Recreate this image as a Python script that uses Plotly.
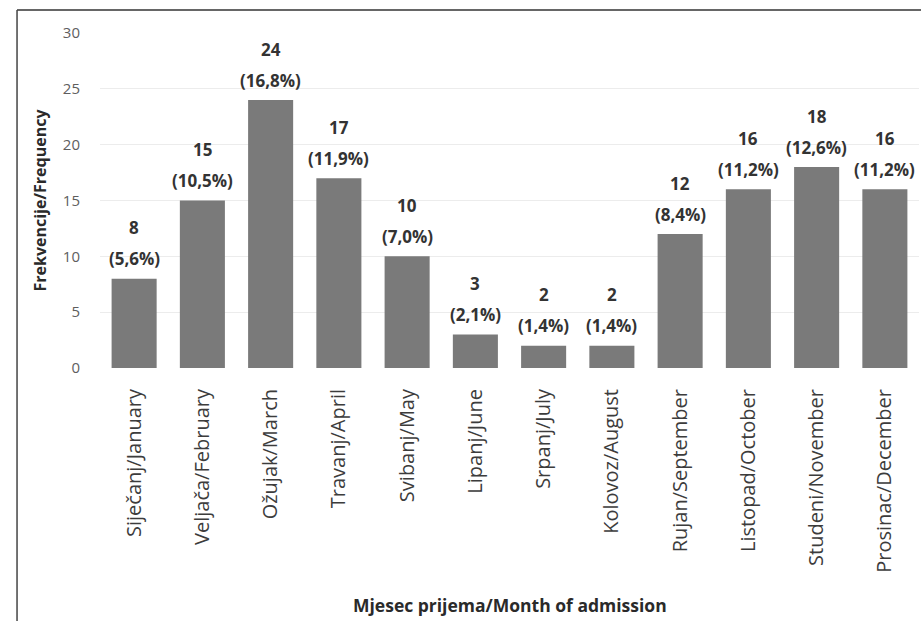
import plotly.graph_objects as go

# Monthly admissions
months = [
    "Siječanj/January", "Veljača/February", "Ožujak/March", "Travanj/April",
    "Svibanj/May", "Lipanj/June", "Srpanj/July", "Kolovoz/August",
    "Rujan/September", "Listopad/October", "Studeni/November", "Prosinac/December",
]
counts = [8, 15, 24, 17, 10, 3, 2, 2, 12, 16, 18, 16]
percents = [5.6, 10.5, 16.8, 11.9, 7.0, 2.1, 1.4, 1.4, 8.4, 11.2, 12.6, 11.2]
y_ticks = [0, 5, 10, 15, 20, 25, 30]

FONT = "Open Sans"
LABEL_COLOR = "#333333"
pct_text = [f"({p:.1f}".replace(".", ",") + "%)" for p in percents]

fig = go.Figure(
    go.Bar(
        x=months,
        y=counts,
        marker=dict(color="#7a7a7a", line=dict(width=0)),
        hoverinfo="skip",
    )
)

# two-line value labels above each bar: count, then share in brackets
annotations = []
for m, c, p in zip(months, counts, pct_text):
    annotations.append(dict(
        x=m, y=c, xref="x", yref="y", text=f"<b>{c}</b>", showarrow=False,
        yanchor="middle", yshift=51,
        font=dict(family=FONT, size=17, color=LABEL_COLOR),
    ))
    annotations.append(dict(
        x=m, y=c, xref="x", yref="y", text=f"<b>{p}</b>", showarrow=False,
        yanchor="middle", yshift=20,
        font=dict(family=FONT, size=17, color=LABEL_COLOR),
    ))

# x-axis title
annotations.append(dict(
    x=0.5, y=-0.707, xref="paper", yref="paper", showarrow=False,
    text="<b>Mjesec prijema/Month of admission</b>",
    xanchor="center", yanchor="middle",
    font=dict(family=FONT, size=17.5, color="#2a2a2a"),
))

fig.update_layout(
    width=921,
    height=621,
    margin=dict(l=100, r=2, t=33, b=253),
    paper_bgcolor="white",
    plot_bgcolor="white",
    bargap=0.34,
    showlegend=False,
    font=dict(family=FONT),
    annotations=annotations,
    xaxis=dict(
        tickangle=-90,
        tickfont=dict(family=FONT, size=20, color="#3c3c3c"),
        showgrid=False,
        showline=False,
        ticks="outside",
        ticklen=12,
        tickcolor="rgba(0,0,0,0)",
    ),
    yaxis=dict(
        range=[0, 30],
        tickvals=y_ticks,
        tickfont=dict(family=FONT, size=15, color="#5e5e5e"),
        showgrid=True,
        gridcolor="#ececec",
        gridwidth=1,
        zeroline=False,
        showline=False,
        ticks="outside",
        ticklen=16,
        tickcolor="rgba(0,0,0,0)",
        title=dict(
            text="<b>Frekvencije/Frequency</b>",
            font=dict(family=FONT, size=16, color="#2a2a2a"),
            standoff=12,
        ),
    ),
    shapes=[
        # frame around the figure (left and top edges)
        dict(type="line", xref="paper", yref="paper",
             x0=-0.1013, x1=1.05, y0=1.0687, y1=1.0687,
             line=dict(color="#333333", width=1.5)),
        dict(type="line", xref="paper", yref="paper",
             x0=-0.1013, x1=-0.1013, y0=1.0687, y1=-0.8,
             line=dict(color="#444444", width=1.5)),
    ],
)

fig.write_html("out.html")
